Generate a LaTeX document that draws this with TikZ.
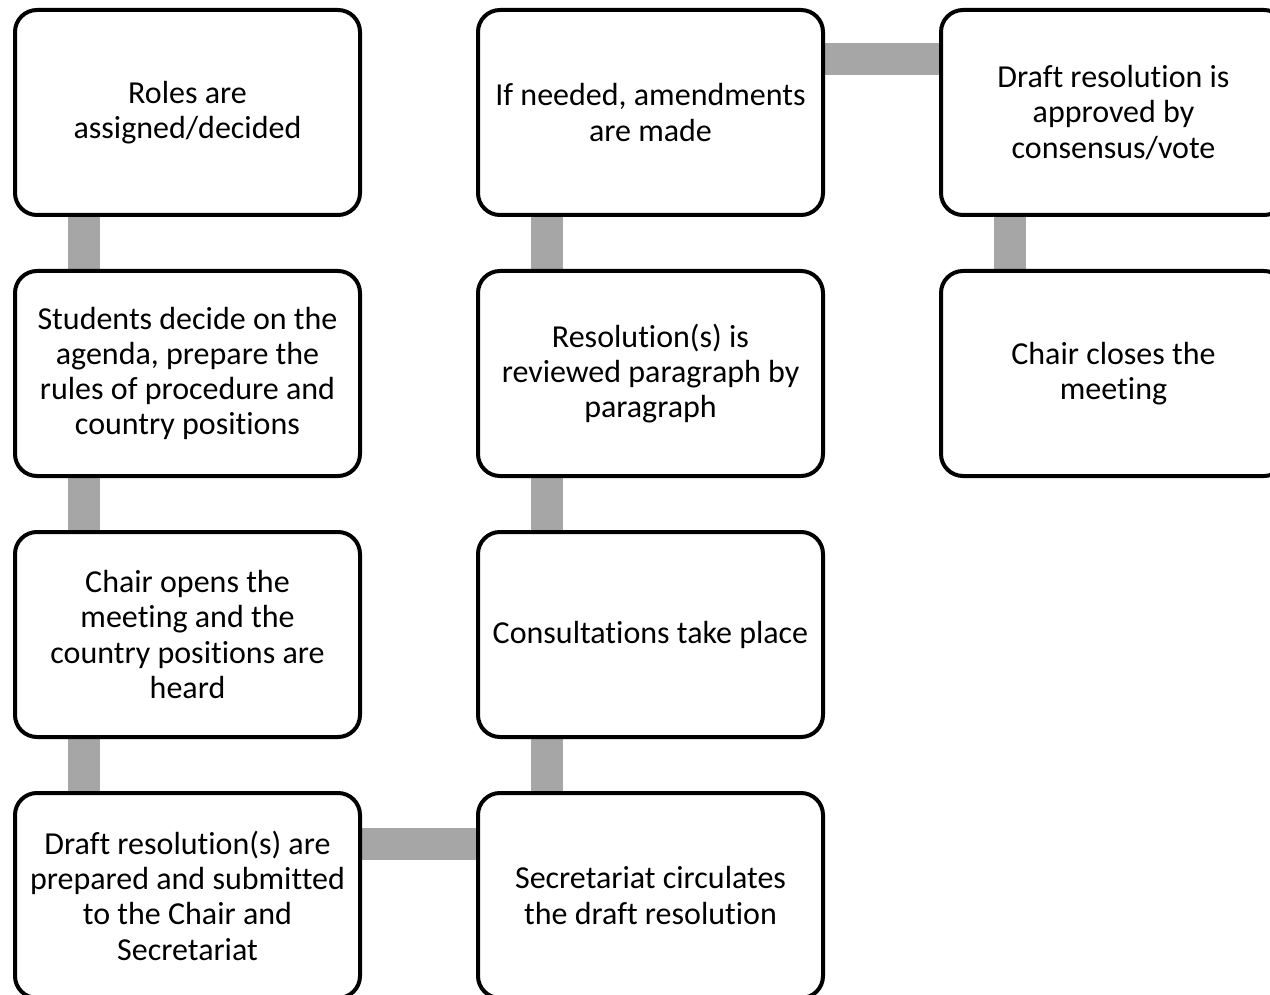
\documentclass[tikz,border=0pt]{standalone}
\usepackage{fontspec}
\setmainfont{Carlito}[Ligatures={NoCommon}]
\usetikzlibrary{backgrounds}
\definecolor{conngray}{HTML}{A6A6A6}
\tikzset{
  stepbox/.style={draw=black, line width=4pt, fill=white, rounded corners=22pt,
    minimum width=345pt, minimum height=205pt, inner sep=0pt, align=center,
    font=\fontsize{32}{35.3}\selectfont},
  conn/.style={draw=conngray, line width=32pt}
}
\begin{document}
\begin{tikzpicture}[x=1pt,y=1pt]
\useasboundingbox (0,0) rectangle (1270,-995);
% column 1
\node[stepbox] (a1) at (187.5,-112.5) {Roles are\\assigned/decided};
\node[stepbox] (a2) at (187.5,-373.5) {Students decide on the\\agenda, prepare the\\rules of procedure and\\country positions};
\node[stepbox] (a3) at (187.5,-634.5) {Chair opens the\\meeting and the\\country positions are\\heard};
\node[stepbox] (a4) at (187.5,-895.5) {Draft resolution(s) are\\prepared and submitted\\to the Chair and\\Secretariat};
% column 2
\node[stepbox] (b4) at (650.5,-895.5) {Secretariat circulates\\the draft resolution};
\node[stepbox] (b3) at (650.5,-634.5) {Consultations take place};
\node[stepbox] (b2) at (650.5,-373.5) {Resolution(s) is\\reviewed paragraph by\\paragraph};
\node[stepbox] (b1) at (650.5,-112.5) {If needed, amendments\\are made};
% column 3
\node[stepbox] (c1) at (1113.5,-112.5) {Draft resolution is\\approved by\\consensus/vote};
\node[stepbox] (c2) at (1113.5,-373.5) {Chair closes the\\meeting};
\begin{pgfonlayer}{background}
\draw[conn] ([xshift=-103.5pt]a1.south) -- ([xshift=-103.5pt]a2.north);
\draw[conn] ([xshift=-103.5pt]a2.south) -- ([xshift=-103.5pt]a3.north);
\draw[conn] ([xshift=-103.5pt]a3.south) -- ([xshift=-103.5pt]a4.north);
\draw[conn] ([yshift=51.5pt]a4.east) -- ([yshift=51.5pt]b4.west);
\draw[conn] ([xshift=-103.5pt]b4.north) -- ([xshift=-103.5pt]b3.south);
\draw[conn] ([xshift=-103.5pt]b3.north) -- ([xshift=-103.5pt]b2.south);
\draw[conn] ([xshift=-103.5pt]b2.north) -- ([xshift=-103.5pt]b1.south);
\draw[conn] ([yshift=53.5pt]b1.east) -- ([yshift=53.5pt]c1.west);
\draw[conn] ([xshift=-103.5pt]c1.south) -- ([xshift=-103.5pt]c2.north);
\end{pgfonlayer}
\end{tikzpicture}
\end{document}
